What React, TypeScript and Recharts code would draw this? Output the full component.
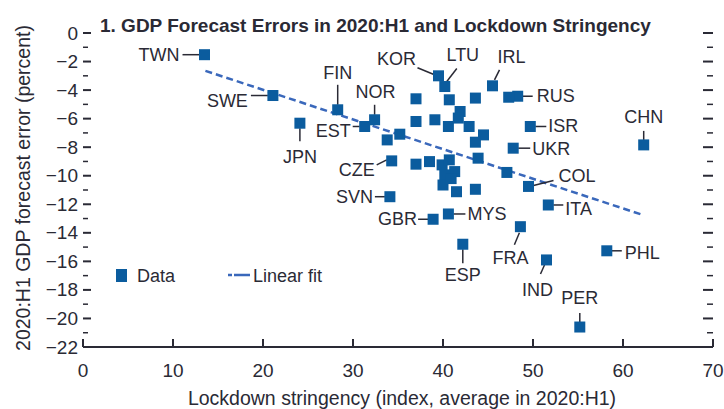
import React from 'react';
import { ScatterChart, Scatter, XAxis, YAxis, Legend } from 'recharts';

const FONT = "'Liberation Sans Narrow', 'Liberation Sans', Arial, sans-serif";
const BLUE = '#0b5c9e';
const FIT = '#3a68bb';
const INK = '#2a2a35';

// Country codes ('' = unlabelled economy)
const countries = [
  'TWN', 'SWE', 'FIN', 'JPN', 'EST', 'NOR', 'CZE', 'SVN', 'GBR', 'MYS', 'ESP', 'FRA',
  'IND', 'KOR', 'LTU', 'IRL', 'RUS', 'ISR', 'UKR', 'CHN', 'COL', 'ITA', 'PHL', 'PER',
  '', '', '', '', '', '', '', '', '', '', '', '', '', '', '', '', '', '', '', '', '', '', '', '', '', '',
];
// Lockdown stringency (index, average in 2020:H1)
const stringency = [
  13.5, 21.1, 28.3, 24.1, 31.3, 32.4, 34.3, 34.1, 38.9, 40.6, 42.2, 48.6,
  51.5, 39.5, 40.2, 45.5, 48.3, 49.7, 47.8, 62.3, 49.5, 51.7, 58.2, 55.2,
  47.3, 37.0, 40.7, 43.6, 37.0, 39.1, 40.6, 41.9, 41.7, 42.9, 44.5, 43.6, 35.2, 33.8,
  37.0, 38.5, 39.9, 40.7, 41.3, 40.2, 40.0, 41.5, 43.6, 43.9, 47.1, 40.9,
];
// 2020:H1 GDP forecast error (percent)
const gdpError = [
  -1.52, -4.38, -5.38, -6.32, -6.55, -6.08, -8.96, -11.47, -13.05, -12.68, -14.8, -13.57,
  -15.9, -3.0, -3.75, -3.7, -4.43, -6.55, -8.07, -7.84, -10.75, -12.05, -15.26, -20.6,
  -4.5, -4.61, -4.68, -4.56, -6.2, -6.08, -6.55, -5.5, -5.96, -6.55, -7.14, -7.65, -7.09, -7.49,
  -9.19, -9.01, -9.24, -8.89, -9.71, -9.94, -10.65, -11.12, -10.95, -8.77, -9.77, -10.2,
];
// Linear fit end points
const fitX = [13.6, 62.2];
const fitY = [-2.65, -12.75];

const xTicks = [0, 10, 20, 30, 40, 50, 60, 70];
const yTicks = [0, -1, -2, -3, -4, -5, -6, -7, -8, -9, -10, -11, -12, -13, -14, -15, -16, -17, -18, -19, -20, -21, -22];

const points = countries.map((c, i) => ({ x: stringency[i], y: gdpError[i], label: c }));
const fitLine = fitX.map((x, i) => ({ x, y: fitY[i] }));

type Lay = { dx: number; dy: number; anchor: 'start' | 'middle' | 'end'; leader: [number, number, number, number] };
const labelLayout: Record<string, Lay> = {
  TWN: { dx: -25, dy: 0, anchor: 'end', leader: [-22, 0, -5, 0] },
  SWE: { dx: -25, dy: 5, anchor: 'end', leader: [-22, 0, -5, 0] },
  FIN: { dx: 0, dy: -37, anchor: 'middle', leader: [0, -25, 0, -5] },
  JPN: { dx: 0, dy: 34, anchor: 'middle', leader: [0, 5, 0, 18] },
  EST: { dx: -14, dy: 5, anchor: 'end', leader: [-12, 0, -5, 0] },
  NOR: { dx: 1, dy: -28, anchor: 'middle', leader: [0, -15, 0, -5] },
  CZE: { dx: -17, dy: 9, anchor: 'end', leader: [-15, 4, -5, -1] },
  SVN: { dx: -17, dy: 0, anchor: 'end', leader: [-15, 0, -5, 0] },
  GBR: { dx: -16, dy: 0, anchor: 'end', leader: [-15, 0, -5, 0] },
  MYS: { dx: 19, dy: 0, anchor: 'start', leader: [5, 0, 17, 0] },
  ESP: { dx: 0, dy: 31, anchor: 'middle', leader: [0, 5, 0, 19] },
  FRA: { dx: -10, dy: 31, anchor: 'middle', leader: [-1, 6, -6, 18] },
  IND: { dx: -9, dy: 30, anchor: 'middle', leader: [-2, 5, -6, 14] },
  KOR: { dx: -42, dy: -17, anchor: 'middle', leader: [-21, -8, -4, -1] },
  LTU: { dx: 18, dy: -32, anchor: 'middle', leader: [12, -18, 2, -5] },
  IRL: { dx: 19, dy: -29, anchor: 'middle', leader: [7, -16, 2, -6] },
  RUS: { dx: 19, dy: 0, anchor: 'start', leader: [5, 0, 15, 0] },
  ISR: { dx: 18, dy: 0, anchor: 'start', leader: [5, 0, 16, 0] },
  UKR: { dx: 19, dy: 1, anchor: 'start', leader: [5, 0, 17, 0] },
  CHN: { dx: 0, dy: -28, anchor: 'middle', leader: [0, -14, 0, -5] },
  COL: { dx: 30, dy: -10, anchor: 'start', leader: [5, -1, 25, -6] },
  ITA: { dx: 17, dy: 4, anchor: 'start', leader: [5, 0, 15, 0] },
  PHL: { dx: 18, dy: 2, anchor: 'start', leader: [5, 0, 15, 0] },
  PER: { dx: 0, dy: -29, anchor: 'middle', leader: [0, -14, 0, -5] },
};

const fmt = (v: number) => String(v).replace('-', '\u2212');

const SquareMark = (props: any) => {
  const { cx, cy, payload } = props;
  if (cx == null || cy == null) return null;
  const lay = labelLayout[payload.label];
  return (
    <g>
      {lay && (
        <line x1={cx + lay.leader[0]} y1={cy + lay.leader[1]} x2={cx + lay.leader[2]} y2={cy + lay.leader[3]}
          stroke={INK} strokeWidth={1.5} />
      )}
      <rect x={cx - 5.5} y={cy - 5.5} width={11} height={11} fill={BLUE} />
      {lay && (
        <text x={cx + lay.dx} y={cy + lay.dy} textAnchor={lay.anchor} dominantBaseline="central"
          fontSize={18} fill={INK} fontFamily={FONT}>{payload.label}</text>
      )}
    </g>
  );
};

const NoMark = () => null;

const LeftTick = (props: any) => {
  const { x, y, payload } = props;
  const v = payload.value;
  const major = v % 2 === 0;
  return (
    <g>
      <line x1={x} x2={x + (major ? 8 : 5)} y1={y} y2={y} stroke={INK} strokeWidth={major ? 2 : 1.5} />
      {major && (
        <text x={x - 5} y={y} textAnchor="end" dominantBaseline="central" fontSize={19} fill={INK} fontFamily={FONT}>
          {fmt(v)}
        </text>
      )}
    </g>
  );
};

const RightTick = (props: any) => {
  const { x, y, payload } = props;
  const major = payload.value % 2 === 0;
  return <line x1={x - (major ? 10 : 6)} x2={x} y1={y} y2={y} stroke={INK} strokeWidth={major ? 2 : 1.5} />;
};

const BottomTick = (props: any) => {
  const { x, y, payload } = props;
  return (
    <g>
      <line x1={x} x2={x} y1={y} y2={y - 8} stroke={INK} strokeWidth={2} />
      <text x={x} y={y + 23} textAnchor="middle" dominantBaseline="central" fontSize={19} fill={INK} fontFamily={FONT}>
        {fmt(payload.value)}
      </text>
    </g>
  );
};

const XLabel = (props: any) => {
  const vb = props.viewBox;
  return (
    <text x={vb.x + vb.width / 2 + 4} y={vb.y + 51} textAnchor="middle" dominantBaseline="central"
      fontSize={19.5} fill={INK} fontFamily={FONT}>
      Lockdown stringency (index, average in 2020:H1)
    </text>
  );
};

const YLabel = (props: any) => {
  const vb = props.viewBox;
  const cx = vb.x + 23;
  const cy = vb.y + vb.height / 2 - 2;
  return (
    <text x={cx} y={cy} transform={`rotate(-90 ${cx} ${cy})`} textAnchor="middle" dominantBaseline="central"
      fontSize={19.5} fill={INK} fontFamily={FONT}>
      2020:H1  GDP forecast error (percent)
    </text>
  );
};

const LegendContent = () => (
  <div style={{ position: 'relative', width: 260, height: 28 }}>
    <svg width={260} height={28} style={{ position: 'absolute', left: 0, top: 0 }}>
      <rect x={4} y={7} width={11} height={13} fill={BLUE} />
      <text x={25} y={14} dominantBaseline="central" fontSize={18} fill={INK} fontFamily={FONT}>Data</text>
      <line x1={116} x2={138} y1={13} y2={13} stroke={FIT} strokeWidth={2.5} strokeDasharray="4 2 12 0" />
      <text x={141} y={14} dominantBaseline="central" fontSize={18} fill={INK} fontFamily={FONT}>Linear fit</text>
    </svg>
  </div>
);

export default function App() {
  return (
    <div style={{ position: 'absolute', left: 0, top: 0, width: 724, height: 409, background: '#fff' }}>
      <ScatterChart width={724} height={409} margin={{ top: 33, right: 10, bottom: 22, left: 0 }}>
        <XAxis type="number" dataKey="x" domain={[0, 70]} ticks={xTicks} interval={0} height={40}
          tickSize={0} tickMargin={0} tickLine={false} tick={<BottomTick />}
          axisLine={{ stroke: INK, strokeWidth: 2 }} label={<XLabel />} allowDataOverflow />
        <YAxis type="number" dataKey="y" domain={[-22, 0]} ticks={yTicks} interval={0} width={83}
          tickSize={0} tickMargin={0} tickLine={false} axisLine={false} tick={<LeftTick />}
          label={<YLabel />} allowDataOverflow />
        <YAxis yAxisId="r" orientation="right" type="number" dataKey="y" domain={[-22, 0]} ticks={yTicks}
          interval={0} width={1} tickSize={0} tickMargin={0} tickLine={false} axisLine={false}
          tick={<RightTick />} allowDataOverflow />
        <Legend layout="horizontal" verticalAlign="middle" align="center"
          wrapperStyle={{ position: 'absolute', left: 112, top: 262, width: 260, height: 28 }}
          content={<LegendContent />} />
        <Scatter data={fitLine} line={{ stroke: FIT, strokeWidth: 2.5, strokeDasharray: '7 4' }}
          shape={<NoMark />} isAnimationActive={false} legendType="none" />
        <Scatter data={points} shape={<SquareMark />} isAnimationActive={false} />
      </ScatterChart>
      <div style={{ position: 'absolute', left: 100, top: 14, fontFamily: FONT, fontWeight: 'bold', fontSize: 19,
        color: INK, whiteSpace: 'nowrap', lineHeight: '24px' }}>
        1. GDP Forecast Errors in 2020:H1 and Lockdown Stringency
      </div>
    </div>
  );
}
